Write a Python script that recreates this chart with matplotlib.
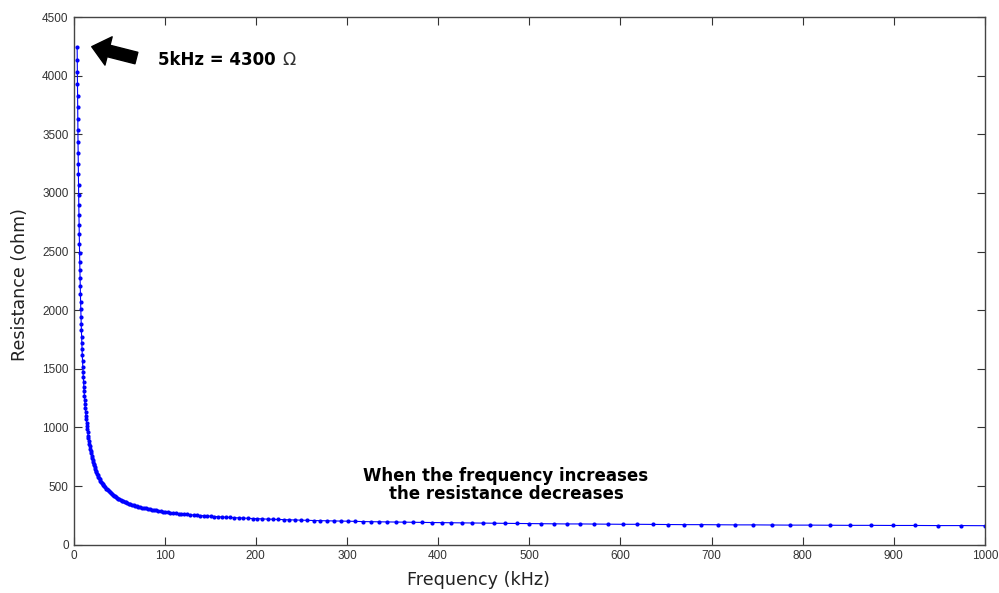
import matplotlib
matplotlib.use("Agg")
import matplotlib.pyplot as plt
from matplotlib import font_manager

# ---- data ----
freq_khz = [
    4.000, 4.108, 4.219, 4.333, 4.450, 4.571, 4.694, 4.821, 4.951, 5.085,
    5.223, 5.364, 5.509, 5.658, 5.811, 5.968, 6.129, 6.295, 6.465, 6.640,
    6.819, 7.004, 7.193, 7.388, 7.587, 7.792, 8.003, 8.219, 8.442, 8.670,
    8.904, 9.145, 9.392, 9.646, 9.907, 10.17, 10.45, 10.73, 11.02, 11.32,
    11.63, 11.94, 12.26, 12.59, 12.94, 13.28, 13.64, 14.01, 14.39, 14.78,
    15.18, 15.59, 16.01, 16.44, 16.89, 17.35, 17.82, 18.30, 18.79, 19.30,
    19.82, 20.36, 20.91, 21.47, 22.05, 22.65, 23.26, 23.89, 24.54, 25.20,
    25.88, 26.58, 27.30, 28.04, 28.79, 29.57, 30.37, 31.19, 32.04, 32.90,
    33.79, 34.71, 35.64, 36.61, 37.60, 38.61, 39.66, 40.73, 41.83, 42.96,
    44.12, 45.31, 46.54, 47.80, 49.09, 50.42, 51.78, 53.18, 54.62, 56.09,
    57.61, 59.17, 60.77, 62.41, 64.10, 65.83, 67.61, 69.44, 71.31, 73.24,
    75.22, 77.26, 79.34, 81.49, 83.69, 85.95, 88.28, 90.66, 93.12, 95.63,
    98.2, 100.9, 103.6, 106.4, 109.3, 112.2, 115.3, 118.4, 121.6, 124.9,
    128.2, 131.7, 135.3, 138.9, 142.7, 146.5, 150.5, 154.6, 158.7, 163.0,
    167.4, 172.0, 176.6, 181.4, 186.3, 191.3, 196.5, 201.8, 207.3, 212.9,
    218.6, 224.5, 230.6, 236.9, 243.3, 249.8, 256.6, 263.5, 270.6, 278.0,
    285.5, 293.2, 301.1, 309.3, 317.6, 326.2, 335.0, 344.1, 353.4, 362.9,
    372.7, 382.8, 393.2, 403.8, 414.7, 425.9, 437.4, 449.3, 461.4, 473.9,
    486.7, 499.8, 513.4, 527.2, 541.5, 556.1, 571.2, 586.6, 602.5, 618.7,
    635.5, 652.7, 670.3, 688.4, 707.0, 726.1, 745.8, 765.9, 786.6, 807.9,
    829.7, 852.2, 875.2, 898.9, 923.2, 948.1, 973.7, 1000.0,
]

resistance_ohm = [
    4240, 4136, 4033, 3931, 3830, 3730, 3632, 3534, 3438, 3343,
    3250, 3159, 3069, 2981, 2894, 2810, 2727, 2646, 2567, 2490,
    2415, 2342, 2271, 2202, 2135, 2070, 2006, 1945, 1885, 1828,
    1772, 1718, 1666, 1615, 1566, 1519, 1474, 1430, 1387, 1346,
    1307, 1269, 1232, 1197, 1163, 1130, 1098, 1068, 1038, 1010,
    983, 957, 931, 907, 884, 861, 839, 818, 798, 779,
    760, 742, 724, 707, 691, 676, 661, 646, 632, 619,
    605, 593, 581, 569, 558, 547, 536, 526, 516, 506,
    497, 488, 479, 471, 463, 455, 447, 440, 432, 425,
    419, 412, 406, 399, 393, 388, 382, 376, 371, 366,
    361, 356, 351, 346, 342, 337, 333, 329, 325, 321,
    317, 313, 309, 306, 302, 299, 295, 292, 289, 286,
    283, 280, 277, 274, 271, 268, 266, 263, 261, 258,
    256, 253, 251, 249, 247, 244, 242, 240, 238, 236,
    234, 232, 230, 229, 227, 225, 223, 222, 220, 218,
    217, 215, 214, 212, 211, 209, 208, 206, 205, 204,
    202, 201, 200, 199, 197, 196, 195, 194, 193, 192,
    191, 190, 189, 188, 187, 186, 185, 184, 183, 182,
    181, 180, 179, 178, 177, 177, 176, 175, 174, 174,
    173, 172, 171, 171, 170, 169, 169, 168, 167, 167,
    166, 165, 165, 164, 164, 163, 163, 162,
]

x_ticks = [0, 100, 200, 300, 400, 500, 600, 700, 800, 900, 1000]
y_ticks = [0, 500, 1000, 1500, 2000, 2500, 3000, 3500, 4000, 4500]

x_label = "Frequency (kHz)"
y_label = "Resistance (ohm)"
peak_note = "5kHz = 4300"
omega = "\u03a9"
trend_note = "When the frequency increases\nthe resistance decreases"

# ---- fonts ----
available = {f.name for f in font_manager.fontManager.ttflist}
tick_font = "Liberation Sans" if "Liberation Sans" in available else "DejaVu Sans"
plt.rcParams["font.family"] = ["DejaVu Sans"]

W, H = 999, 593
fig = plt.figure(figsize=(W / 100, H / 100), dpi=100)
fig.patch.set_facecolor("white")

left_px, right_px, top_px, bottom_px = 73.5, 985.0, 17.0, 544.7
ax = fig.add_axes([left_px / W, 1 - bottom_px / H,
                   (right_px - left_px) / W, (bottom_px - top_px) / H])

ax.plot(freq_khz, resistance_ohm, color="#0000ff", linewidth=0.8,
        marker="o", markersize=3.0, markeredgewidth=0, markerfacecolor="#0000ff")

ax.set_xlim(0, 1000)
ax.set_ylim(0, 4500)
ax.set_xticks(x_ticks)
ax.set_yticks(y_ticks)
ax.set_xticklabels([str(t) for t in x_ticks])
ax.set_yticklabels([str(t) for t in y_ticks])

ax.tick_params(axis="both", which="both", direction="in", length=5.5, width=0.8,
               color="#333333", labelsize=8.5, labelcolor="#333333",
               top=True, right=True, pad=3.5)
for lab in ax.get_xticklabels() + ax.get_yticklabels():
    lab.set_fontfamily(tick_font)
for sp in ax.spines.values():
    sp.set_color("#444444")
    sp.set_linewidth(1.0)

# axis labels
fig.text(478 / W, 1 - 580 / H, x_label, ha="center", va="center",
         fontsize=12.6, color="#222222")
fig.text(20 / W, 1 - 285 / H, y_label, ha="center", va="center",
         rotation=90, fontsize=12.6, color="#222222")

# annotations
ax.annotate("", xy=(20, 4247), xytext=(69, 4150),
            arrowprops=dict(arrowstyle="simple,head_width=2.1,head_length=1.25,tail_width=0.85",
                            fc="black", ec="black", mutation_scale=10,
                            shrinkA=0, shrinkB=0))
ax.text(92.7, 4133, peak_note, ha="left", va="center", fontsize=12,
        fontweight="bold", color="black")
ax.text(229, 4133, omega, ha="left", va="center", fontsize=12.5,
        color="#333333")
ax.text(474.5, 505, trend_note, ha="center", va="center", fontsize=12,
        fontweight="bold", color="black", linespacing=1.0)

fig.savefig("out.png", dpi=100)
